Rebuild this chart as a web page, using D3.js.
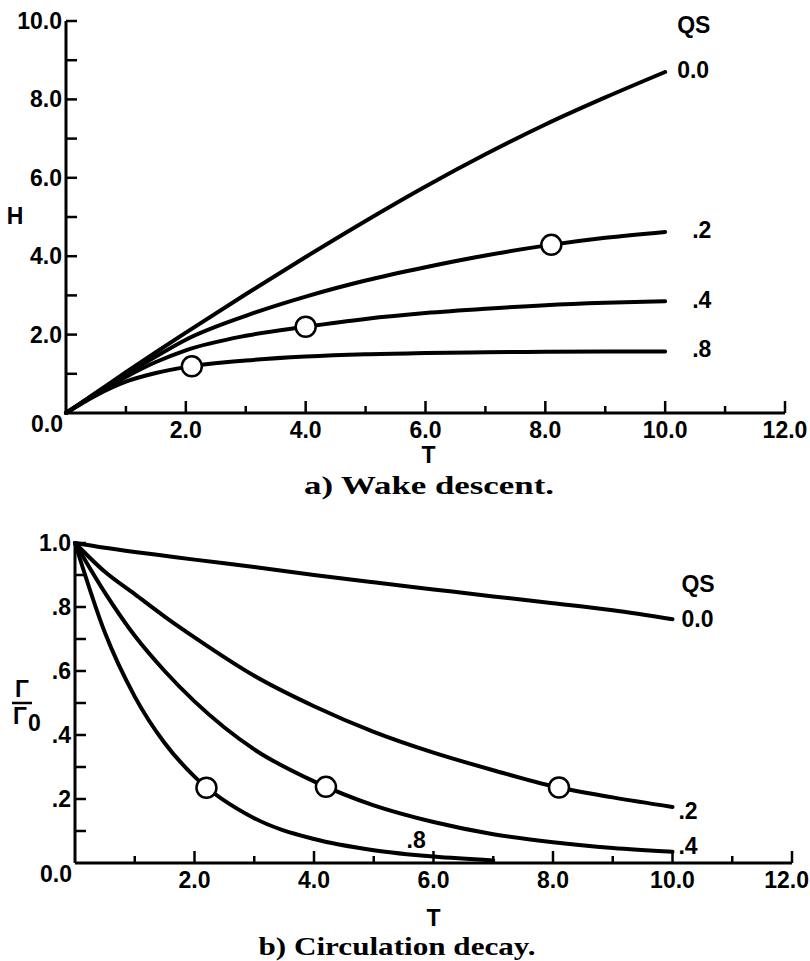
<!DOCTYPE html>
<html>
<head>
<meta charset="utf-8">
<script src="https://cdn.jsdelivr.net/npm/d3@7"></script>
<style>
  body { margin: 0; background: #fff; }
  svg { display: block; }
  .tick_label { font-family: "Liberation Sans", Arial, sans-serif; font-weight: bold; font-size: 23px; }
  .title { font-family: "Liberation Serif", serif; font-weight: bold; font-size: 25px; }
</style>
</head>
<body>
<script>
// ---- data ----
const t_values = [0, 0.5, 1, 1.5, 2, 3, 4, 5, 6, 7, 8, 9, 10];

// a) wake descent, H vs T
const h_qs00 = [0, 0.52, 1.04, 1.55, 2.05, 3.03, 3.98, 4.9, 5.78, 6.6, 7.36, 8.05, 8.7];
const h_qs02 = [0, 0.5, 0.98, 1.44, 1.87, 2.48, 2.97, 3.38, 3.72, 4.02, 4.27, 4.47, 4.62];
const h_qs04 = [0, 0.48, 0.92, 1.3, 1.6, 1.97, 2.2, 2.4, 2.55, 2.66, 2.75, 2.81, 2.85];
const h_qs08 = [0, 0.45, 0.8, 1.02, 1.17, 1.34, 1.44, 1.5, 1.53, 1.55, 1.56, 1.57, 1.57];
const h_markers = [[2.1, 1.19], [4.0, 2.2], [8.1, 4.29]];

// b) circulation decay, Gamma/Gamma0 vs T
const g_qs00 = [1.0, 0.985, 0.972, 0.96, 0.948, 0.925, 0.9, 0.877, 0.855, 0.833, 0.812, 0.79, 0.762];
const g_qs02 = [1.0, 0.91, 0.84, 0.77, 0.705, 0.585, 0.49, 0.41, 0.345, 0.29, 0.24, 0.205, 0.175];
const g_qs04 = [1.0, 0.845, 0.71, 0.6, 0.505, 0.355, 0.255, 0.18, 0.128, 0.09, 0.065, 0.047, 0.035];
const g_qs08 = [1.0, 0.72, 0.52, 0.375, 0.27, 0.14, 0.075, 0.04, 0.02, 0.008];
const g_markers = [[2.2, 0.235], [4.2, 0.238], [8.1, 0.236]];

const x_ticks = [2, 4, 6, 8, 10, 12];
const x_tick_labels = ["2.0", "4.0", "6.0", "8.0", "10.0", "12.0"];
const h_ticks = [2, 4, 6, 8, 10];
const h_tick_labels = ["2.0", "4.0", "6.0", "8.0", "10.0"];
const g_ticks = [0.2, 0.4, 0.6, 0.8, 1.0];
const g_tick_labels = [".2", ".4", ".6", ".8", "1.0"];
const origin_label = "0.0";

const width = 810, height = 961;
const line_width = 4;

const svg = d3.select("body").append("svg")
  .attr("width", width)
  .attr("height", height);

function drawAxes(g, x, y, x_minor, y_minor, y_ticks, y_labels) {
  const x0 = x(0), y0 = y(0);
  // x axis line
  g.append("line").attr("x1", x0).attr("x2", x(12)).attr("y1", y0).attr("y2", y0)
    .attr("stroke", "#000").attr("stroke-width", 3);
  // y axis line
  g.append("line").attr("x1", x0).attr("x2", x0).attr("y1", y0).attr("y2", y(y.domain()[1]))
    .attr("stroke", "#000").attr("stroke-width", 3);

  for (const t of x_minor) {
    const major = t % 2 === 0;
    g.append("line").attr("x1", x(t)).attr("x2", x(t))
      .attr("y1", y0).attr("y2", y0 - (major ? 12 : 7))
      .attr("stroke", "#000").attr("stroke-width", 2.5);
  }
  for (const v of y_minor) {
    g.append("line").attr("x1", x0).attr("x2", x0 + 11)
      .attr("y1", y(v)).attr("y2", y(v))
      .attr("stroke", "#000").attr("stroke-width", 2.5);
  }

  x_ticks.forEach((t, i) => {
    const txt = g.append("text").attr("class", "tick_label")
      .attr("x", x(t))
      .attr("y", y0 + 25)
      .attr("text-anchor", "middle")
      .text(x_tick_labels[i]);
    // keep the last label inside the page
    const box = txt.node().getBBox();
    if (box.x + box.width > width - 1)
      txt.attr("text-anchor", "end").attr("x", width - 1);
  });
  y_ticks.forEach((v, i) => {
    g.append("text").attr("class", "tick_label")
      .attr("x", x0 - 4)
      .attr("y", y(v) + 8)
      .attr("text-anchor", "end")
      .text(y_labels[i]);
  });
  // shared corner label
  g.append("text").attr("class", "tick_label")
    .attr("x", x0 - 3)
    .attr("y", y0 + 19)
    .attr("text-anchor", "end")
    .text(origin_label);
}

function drawCurve(g, x, y, values) {
  const pts = values.map((v, i) => [t_values[i], v]);
  g.append("path")
    .datum(pts)
    .attr("fill", "none")
    .attr("stroke", "#000")
    .attr("stroke-width", line_width)
    .attr("stroke-linecap", "round")
    .attr("d", d3.line().x((d) => x(d[0])).y((d) => y(d[1])).curve(d3.curveMonotoneX));
}

function drawMarkers(g, x, y, markers) {
  g.selectAll(null).data(markers).enter().append("circle")
    .attr("cx", (d) => x(d[0]))
    .attr("cy", (d) => y(d[1]))
    .attr("r", 10)
    .attr("fill", "#fff")
    .attr("stroke", "#000")
    .attr("stroke-width", 2.5);
}

function label(g, px, py, text, anchor = "start") {
  g.append("text").attr("class", "tick_label")
    .attr("x", px).attr("y", py)
    .attr("text-anchor", anchor)
    .text(text);
}

function title(g, px, py, text, len) {
  g.append("text").attr("class", "title")
    .attr("x", px).attr("y", py)
    .attr("text-anchor", "middle")
    .attr("textLength", len)
    .attr("lengthAdjust", "spacingAndGlyphs")
    .text(text);
}

// ---- a) wake descent ----
function drawWakeDescent() {
  const g = svg.append("g");
  const x = d3.scaleLinear().domain([0, 12]).range([66, 785]);
  const y = d3.scaleLinear().domain([0, 10]).range([413, 21]);

  drawAxes(g, x, y, d3.range(1, 13), d3.range(1, 11), h_ticks, h_tick_labels);

  for (const s of [h_qs00, h_qs02, h_qs04, h_qs08]) drawCurve(g, x, y, s);
  drawMarkers(g, x, y, h_markers);

  label(g, x(10.2), y(9.7), "QS");
  label(g, x(10.2), y(8.7) + 6, "0.0");
  label(g, x(10.45), y(4.65) + 7, ".2");
  label(g, x(10.45), y(2.85) + 7, ".4");
  label(g, x(10.45), y(1.6) + 7, ".8");

  label(g, 15, y(5) + 7, "H", "middle");
  label(g, x(6.05), 463, "T", "middle");
  title(g, 429, 494, "a) Wake descent.", 250);
}

// ---- b) circulation decay ----
function drawCirculationDecay() {
  const g = svg.append("g");
  const x = d3.scaleLinear().domain([0, 12]).range([75, 792]);
  const y = d3.scaleLinear().domain([0, 1]).range([863, 543]);

  drawAxes(g, x, y, d3.range(1, 13), d3.range(1, 11).map((d) => d / 10), g_ticks, g_tick_labels);

  for (const s of [g_qs00, g_qs02, g_qs04, g_qs08]) drawCurve(g, x, y, s);
  drawMarkers(g, x, y, g_markers);

  label(g, x(10.15), y(0.87) + 7, "QS");
  label(g, x(10.15), y(0.76) + 7, "0.0");
  label(g, x(10.1), y(0.16) + 7, ".2");
  label(g, x(10.1), y(0.05) + 7, ".4");
  label(g, x(5.55), y(0.07) + 7, ".8");

  // Gamma / Gamma0 axis label
  const ly = y(0.5);
  g.append("text").attr("class", "tick_label").attr("x", 22).attr("y", ly - 6)
    .attr("text-anchor", "middle").text("Γ");
  g.append("line").attr("x1", 12).attr("x2", 32).attr("y1", ly).attr("y2", ly)
    .attr("stroke", "#000").attr("stroke-width", 2.5);
  g.append("text").attr("class", "tick_label").attr("x", 20).attr("y", ly + 21)
    .attr("text-anchor", "middle").text("Γ");
  g.append("text").attr("class", "tick_label").attr("x", 28).attr("y", ly + 28)
    .attr("font-size", "15px").attr("text-anchor", "start").text("0");

  label(g, x(6), 926, "T", "middle");
  title(g, 397, 955, "b) Circulation decay.", 277);
}

drawWakeDescent();
drawCirculationDecay();
</script>
</body>
</html>
